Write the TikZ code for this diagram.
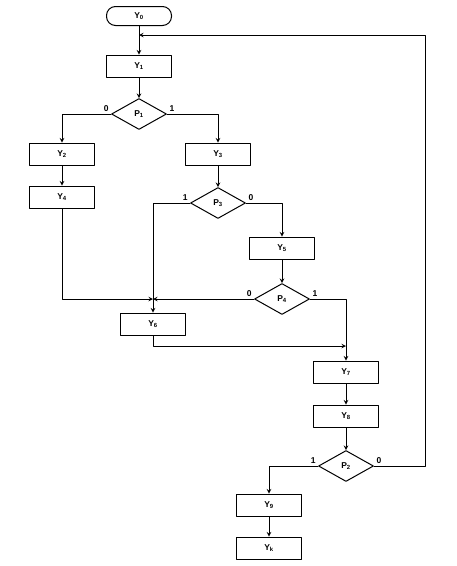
\documentclass[tikz,border=0pt]{standalone}
\usepackage{fontspec}
\setmainfont{Liberation Sans}
\usetikzlibrary{shapes.geometric}
\begin{document}
\begin{tikzpicture}[x=1pt,y=-1pt,>=stealth,line join=round,line cap=round,line width=1pt,
	font=\fontsize{8.5}{9}\selectfont\bfseries,
	blk/.style={draw,rectangle,minimum width=65pt,minimum height=22pt,inner sep=0pt},
	term/.style={blk,rounded corners=9pt,minimum height=19pt},
	cond/.style={draw,diamond,aspect=1.8,minimum width=55pt,minimum height=31pt,inner sep=0pt},
	lbl/.style={inner sep=2pt}]
	\useasboundingbox (0,0) rectangle (457,566);
	% blocks
	\node[term] (y0) at (139,16) {Y\textsubscript{0}};
	\node[blk] (y1) at (139,66) {Y\textsubscript{1}};
	\node[cond] (p1) at (139,114) {P\textsubscript{1}};
	\node[blk] (y2) at (62,154) {Y\textsubscript{2}};
	\node[blk] (y4) at (62,197) {Y\textsubscript{4}};
	\node[blk] (y3) at (218,154) {Y\textsubscript{3}};
	\node[cond] (p3) at (218,203) {P\textsubscript{3}};
	\node[blk] (y5) at (282,248) {Y\textsubscript{5}};
	\node[cond] (p4) at (282,299) {P\textsubscript{4}};
	\node[blk] (y6) at (153,324) {Y\textsubscript{6}};
	\node[blk] (y7) at (346,372) {Y\textsubscript{7}};
	\node[blk] (y8) at (346,416) {Y\textsubscript{8}};
	\node[cond] (p2) at (346,466) {P\textsubscript{2}};
	\node[blk] (y9) at (269,505) {Y\textsubscript{9}};
	\node[blk] (yk) at (269,548) {Y\textsubscript{k}};
	\coordinate (fb) at (139,35);
	\coordinate (fbr) at (425,35);
	\coordinate (m6) at (153,299);
	\coordinate (m7) at (346,346);
	% connections
	\draw[->] (y0)--(y1);
	\draw[->] (y1)--(p1);
	\draw[->] (p1.west) node[lbl,above left]{0} -| (y2);
	\draw[->] (p1.east) node[lbl,above right]{1} -| (y3);
	\draw[->] (y2)--(y4);
	\draw[->] (y3)--(p3);
	\draw[->] (p3.west) node[lbl,above left]{1} -| (y6);
	\draw[->] (p3.east) node[lbl,above right]{0} -| (y5);
	\draw[->] (y5)--(p4);
	\draw[->] (y4) |- (m6);
	\draw[->] (p4.west) node[lbl,above left]{0} -- (m6);
	\draw[->] (p4.east) node[lbl,above right]{1} -| (y7);
	\draw[->] (y6) |- (m7);
	\draw[->] (y7)--(y8);
	\draw[->] (y8)--(p2);
	\draw[->] (p2.west) node[lbl,above left]{1} -| (y9);
	\draw[->] (p2.east) node[lbl,above right]{0} -| (fbr) -- (fb);
	\draw[->] (y9)--(yk);
\end{tikzpicture}
\end{document}
